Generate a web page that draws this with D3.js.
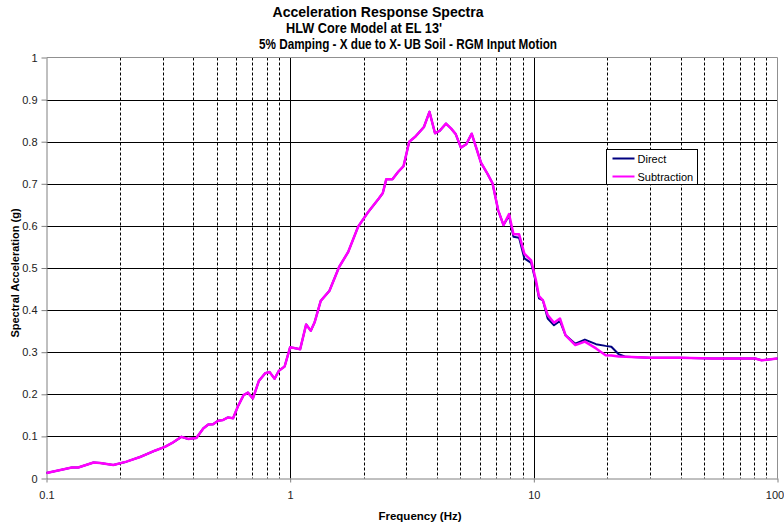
<!DOCTYPE html>
<html>
<head>
<meta charset="utf-8">
<script src="https://cdn.jsdelivr.net/npm/d3@7/dist/d3.min.js"></script>
<style>
  html, body { margin: 0; padding: 0; background: #fff; }
  svg { display: block; font-family: "Liberation Sans", Arial, sans-serif; }
</style>
</head>
<body>
<svg id="chart" width="784" height="525"></svg>
<script>
// Spectrum sample frequencies (Hz)
const frequency = [
  0.100, 0.114, 0.127, 0.135, 0.156, 0.166, 0.188, 0.213, 0.242, 0.278,
  0.306, 0.331, 0.358, 0.381, 0.412, 0.440, 0.461, 0.483, 0.506, 0.531,
  0.556, 0.583, 0.611, 0.644, 0.671, 0.703, 0.744, 0.790, 0.823, 0.863,
  0.899, 0.949, 1.000, 1.099, 1.163, 1.215, 1.260, 1.335, 1.450, 1.590,
  1.730, 1.900, 2.090, 2.310, 2.400, 2.480, 2.630, 2.780, 2.920, 3.080,
  3.250, 3.540, 3.730, 3.930, 4.110, 4.360, 4.580, 4.780, 5.020, 5.280,
  5.560, 6.070, 6.450, 6.770, 7.140, 7.510, 7.910, 8.250, 8.700, 9.140,
  9.750, 10.20, 10.50, 10.90, 11.40, 12.10, 12.80, 13.50, 14.80, 16.20,
  18.00, 19.70, 20.80, 22.30, 23.90, 29.80, 39.60, 54.00, 81.00, 86.00,
  100.0
];

// Spectral acceleration (g), direct method
const direct = [
  0.013, 0.020, 0.026, 0.026, 0.038, 0.037, 0.032, 0.040, 0.051, 0.066,
  0.075, 0.086, 0.099, 0.094, 0.096, 0.119, 0.128, 0.129, 0.137, 0.139,
  0.145, 0.143, 0.172, 0.198, 0.204, 0.190, 0.232, 0.250, 0.253, 0.237,
  0.256, 0.266, 0.312, 0.307, 0.366, 0.351, 0.371, 0.422, 0.446, 0.503,
  0.538, 0.598, 0.633, 0.665, 0.678, 0.711, 0.711, 0.729, 0.742, 0.800,
  0.811, 0.835, 0.871, 0.820, 0.826, 0.843, 0.831, 0.818, 0.786, 0.794,
  0.819, 0.750, 0.724, 0.701, 0.637, 0.602, 0.624, 0.574, 0.572, 0.523,
  0.512, 0.466, 0.428, 0.423, 0.380, 0.364, 0.374, 0.340, 0.320, 0.330,
  0.319, 0.315, 0.313, 0.295, 0.289, 0.287, 0.287, 0.285, 0.285, 0.281,
  0.285
];

// Spectral acceleration (g), subtraction method
const subtraction = [
  0.013, 0.020, 0.026, 0.026, 0.038, 0.037, 0.032, 0.040, 0.051, 0.066,
  0.075, 0.086, 0.099, 0.094, 0.096, 0.119, 0.128, 0.129, 0.137, 0.139,
  0.145, 0.143, 0.172, 0.198, 0.204, 0.190, 0.232, 0.250, 0.253, 0.237,
  0.256, 0.266, 0.312, 0.307, 0.366, 0.351, 0.371, 0.422, 0.446, 0.503,
  0.538, 0.598, 0.633, 0.665, 0.678, 0.711, 0.711, 0.729, 0.742, 0.800,
  0.811, 0.835, 0.871, 0.820, 0.826, 0.843, 0.831, 0.818, 0.786, 0.794,
  0.819, 0.750, 0.724, 0.701, 0.637, 0.602, 0.628, 0.580, 0.580, 0.534,
  0.518, 0.471, 0.433, 0.423, 0.388, 0.370, 0.380, 0.340, 0.317, 0.325,
  0.309, 0.293, 0.292, 0.290, 0.289, 0.287, 0.287, 0.285, 0.285, 0.281,
  0.285
];

const seriesNames = ["Direct", "Subtraction"];
const seriesColors = ["#000080", "#ff00ff"];

const xTickValues = [0.1, 1, 10, 100];
const xTickLabels = ["0.1", "1", "10", "100"];
const xMinorValues = [0.2, 0.3, 0.4, 0.5, 0.6, 0.7, 0.8, 0.9,
                      2, 3, 4, 5, 6, 7, 8, 9,
                      20, 30, 40, 50, 60, 70, 80, 90];
const yTickValues = [0, 0.1, 0.2, 0.3, 0.4, 0.5, 0.6, 0.7, 0.8, 0.9, 1];
const yTickLabels = ["0", "0.1", "0.2", "0.3", "0.4", "0.5", "0.6", "0.7", "0.8", "0.9", "1"];

const titleLines = [
  "Acceleration Response Spectra",
  "HLW Core Model at EL 13'",
  "5% Damping - X due to X- UB Soil - RGM Input Motion"
];

const svg = d3.select("#chart");
const plot = { left: 46.5, right: 777.5, top: 57.5, bottom: 478.5 };

const x = d3.scaleLog().domain([0.1, 100]).range([plot.left, plot.right]);
const y = d3.scaleLinear().domain([0, 1]).range([plot.bottom, plot.top]);

// Title, set in a condensed bold face
const titleX = [378, 364, 408];
const titleY = [17, 33, 49];
const titleW = [211, 156, 298];
svg.append("g").selectAll("text").data(titleLines).join("text")
  .attr("x", (d, i) => titleX[i])
  .attr("y", (d, i) => titleY[i])
  .attr("text-anchor", "middle")
  .attr("font-size", 14)
  .attr("font-weight", "bold")
  .attr("fill", "#000")
  .attr("textLength", (d, i) => titleW[i])
  .attr("lengthAdjust", "spacingAndGlyphs")
  .text(d => d);

// Gridlines
const grid = svg.append("g");
grid.selectAll("line.h").data(yTickValues.filter(v => v > 0 && v < 1)).join("line")
  .attr("x1", plot.left).attr("x2", plot.right)
  .attr("y1", d => Math.round(y(d)) + 0.5).attr("y2", d => Math.round(y(d)) + 0.5)
  .attr("stroke", "#000").attr("stroke-width", 1);
grid.selectAll("line.vmin").data(xMinorValues).join("line")
  .attr("x1", d => Math.round(x(d)) + 0.5).attr("x2", d => Math.round(x(d)) + 0.5)
  .attr("y1", plot.top).attr("y2", plot.bottom)
  .attr("stroke", "#000").attr("stroke-width", 1)
  .attr("stroke-dasharray", "3,2");
grid.selectAll("line.vmaj").data([1, 10]).join("line")
  .attr("x1", d => Math.round(x(d)) + 0.5).attr("x2", d => Math.round(x(d)) + 0.5)
  .attr("y1", plot.top).attr("y2", plot.bottom)
  .attr("stroke", "#000").attr("stroke-width", 1);

// Plot frame (top and right)
svg.append("path")
  .attr("d", `M${plot.left},${plot.top}H${plot.right}V${plot.bottom}`)
  .attr("fill", "none").attr("stroke", "#909090").attr("stroke-width", 1);

// Axes
const xAxis = d3.axisBottom(x).tickValues(xTickValues)
  .tickFormat((d, i) => xTickLabels[i]).tickSizeInner(4).tickSizeOuter(0).tickPadding(9);
const gx = svg.append("g").attr("transform", `translate(0,${plot.bottom})`).call(xAxis);
gx.select(".domain").attr("stroke", "#808080");
gx.selectAll(".tick line").attr("stroke", "#808080");
gx.selectAll(".tick text").attr("font-size", 11).attr("fill", "#222")
  .attr("font-family", "Liberation Sans, Arial, sans-serif")
  .attr("dx", d => d === 100 ? -3 : 0);

const yAxis = d3.axisLeft(y).tickValues(yTickValues)
  .tickFormat((d, i) => yTickLabels[i]).tickSizeInner(5).tickSizeOuter(0).tickPadding(4);
const gy = svg.append("g").attr("transform", `translate(${plot.left},0)`).call(yAxis);
gy.select(".domain").attr("stroke", "#808080");
gy.selectAll(".tick line").attr("stroke", "#808080");
gy.selectAll(".tick text").attr("font-size", 11).attr("fill", "#222")
  .attr("font-family", "Liberation Sans, Arial, sans-serif");

// Axis titles
svg.append("text")
  .attr("x", 420).attr("y", 520)
  .attr("text-anchor", "middle")
  .attr("font-size", 11.5).attr("font-weight", "bold")
  .text("Frequency (Hz)");
svg.append("text")
  .attr("transform", "translate(19,273) rotate(-90)")
  .attr("text-anchor", "middle")
  .attr("font-size", 11).attr("font-weight", "bold")
  .text("Spectral Acceleration (g)");

// Curves
const line = d3.line().x(d => x(d[0])).y(d => y(d[1]));
const series = [direct, subtraction].map(vals => frequency.map((f, i) => [f, vals[i]]));
svg.append("g").selectAll("path").data(series).join("path")
  .attr("d", line)
  .attr("fill", "none")
  .attr("stroke", (d, i) => seriesColors[i])
  .attr("stroke-width", (d, i) => i === 0 ? 2 : 2.5)
  .attr("stroke-linejoin", "round");

// Legend
const legend = svg.append("g").attr("transform", "translate(606.5,149.5)");
legend.append("rect")
  .attr("width", 91).attr("height", 35)
  .attr("fill", "#fff").attr("stroke", "#000").attr("stroke-width", 1);
const items = legend.selectAll("g").data(seriesNames).join("g")
  .attr("transform", (d, i) => `translate(0,${9 + i * 18})`);
items.append("line")
  .attr("x1", 6).attr("x2", 28)
  .attr("stroke", (d, i) => seriesColors[i]).attr("stroke-width", 2);
items.append("text")
  .attr("x", 31).attr("y", 4)
  .attr("font-size", 11).attr("fill", "#000")
  .text(d => d);
</script>
</body>
</html>
